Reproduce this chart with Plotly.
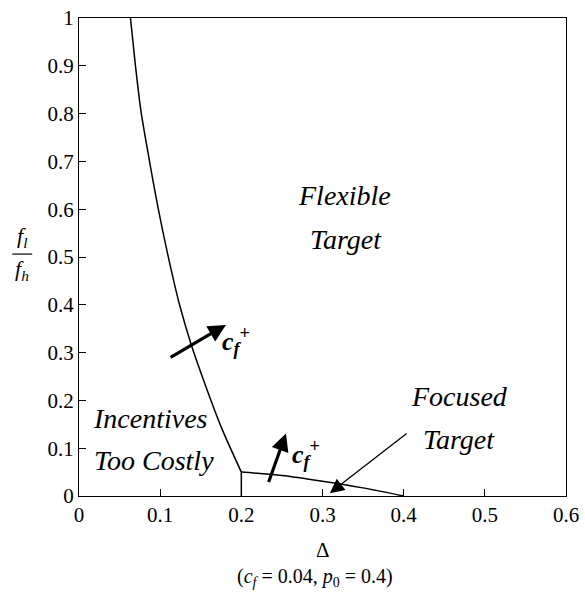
import plotly.graph_objects as go

# Boundary between "Incentives Too Costly" and "Flexible Target"
boundary_x = [0.0634, 0.0693, 0.0761, 0.0863, 0.0973, 0.1098, 0.1239, 0.138, 0.1546, 0.1755, 0.2]
boundary_y = [1.0, 0.904, 0.808, 0.706, 0.604, 0.502, 0.4, 0.318, 0.237, 0.143, 0.05]

# Boundary between "Flexible Target" and "Focused Target"
focused_x = [0.2, 0.25, 0.3, 0.35, 0.4]
focused_y = [0.05, 0.043, 0.031, 0.017, 0.0]

# Vertical divider
divider_x = [0.2, 0.2]
divider_y = [0.0, 0.05]

x_ticks = [0, 0.1, 0.2, 0.3, 0.4, 0.5, 0.6]
x_tick_labels = ["0", "0.1", "0.2", "0.3", "0.4", "0.5", "0.6"]
y_ticks = [0, 0.1, 0.2, 0.3, 0.4, 0.5, 0.6, 0.7, 0.8, 0.9, 1.0]
y_tick_labels = ["0", "0.1", "0.2", "0.3", "0.4", "0.5", "0.6", "0.7", "0.8", "0.9", "1"]

FONT = "Liberation Serif"
W, H = 585, 600
ML, MR, MT, MB = 79, 17, 6, 104

fig = go.Figure()
fig.add_trace(go.Scatter(x=boundary_x, y=boundary_y, mode="lines",
                         line=dict(color="black", width=1.5, shape="spline", smoothing=0.8),
                         hoverinfo="skip", showlegend=False))
fig.add_trace(go.Scatter(x=focused_x, y=focused_y, mode="lines",
                         line=dict(color="black", width=1.5, shape="spline", smoothing=0.8),
                         hoverinfo="skip", showlegend=False))
fig.add_trace(go.Scatter(x=divider_x, y=divider_y, mode="lines",
                         line=dict(color="black", width=1.5), hoverinfo="skip", showlegend=False))

ann = []
def text(x, y, s, size=28, xanchor="center", xref="x", yref="y"):
    ann.append(dict(x=x, y=y, xref=xref, yref=yref, text=s, showarrow=False,
                    xanchor=xanchor, yanchor="middle",
                    font=dict(family=FONT, size=size, color="black")))

text(0.327, 0.629, "<i>Flexible</i>")
text(0.329, 0.537, "<i>Target</i>")
text(0.0144, 0.162, "<i>Incentives</i>", xanchor="left")
text(0.0156, 0.0735, "<i>Too Costly</i>", xanchor="left")
text(0.469, 0.209, "<i>Focused</i>")
text(0.468, 0.118, "<i>Target</i>")

cf = "<b><i>c<sub>f</sub></i><sup>+</sup></b>"
text(0.174, 0.325, cf, size=26, xanchor="left")
text(0.26, 0.088, cf, size=26, xanchor="left")

def arrow(x, y, ax, ay, width, size):
    ann.append(dict(x=x, y=y, ax=ax, ay=ay, xref="x", yref="y", axref="x", ayref="y",
                    text="", showarrow=True, arrowhead=2, arrowsize=size,
                    arrowwidth=width, arrowcolor="black", standoff=0, startstandoff=0))

arrow(0.181, 0.358, 0.111, 0.288, 3.2, 1.1)
arrow(0.255, 0.131, 0.233, 0.026, 3.2, 1.1)
arrow(0.309, 0.006, 0.4055, 0.133, 1.3, 2.2)

def px2paper(px, py):
    return (px - ML) / (W - ML - MR), (H - MB - py) / (H - MT - MB)

fx, fy = px2paper(22, 231)
text(fx, fy, "<i>f<sub>l</sub></i>", size=22, xref="paper", yref="paper")
fx, fy = px2paper(22, 264)
text(fx, fy, "<i>f<sub>h</sub></i>", size=22, xref="paper", yref="paper")
bx0, by = px2paper(12, 248)
bx1, _ = px2paper(32, 248)

dx, dy = px2paper(324, 551)
text(dx, dy, "Δ", size=21, xref="paper", yref="paper")
cx, cy = px2paper(316, 580)
text(cx, cy, "(<i>c<sub>f</sub></i> = 0.04, <i>p</i><sub>0</sub> = 0.4)", size=20,
     xref="paper", yref="paper")

axis_common = dict(ticks="inside", ticklen=7, tickwidth=1, tickcolor="black",
                   showline=True, linecolor="black", linewidth=1.3, mirror=True,
                   showgrid=False, zeroline=False,
                   ticklabeloverflow="allow",
                   tickfont=dict(family=FONT, size=21, color="black"))

fig.update_layout(
    width=W, height=H,
    margin=dict(l=ML, r=MR, t=MT, b=MB, pad=0),
    paper_bgcolor="white", plot_bgcolor="white",
    font=dict(family=FONT, size=21, color="black"),
    annotations=ann,
    shapes=[dict(type="line", xref="paper", yref="paper", x0=bx0, x1=bx1, y0=by, y1=by,
                 line=dict(color="black", width=1.2))],
    xaxis=dict(range=[0, 0.6], tickvals=x_ticks, ticktext=x_tick_labels, **axis_common),
    yaxis=dict(range=[0, 1], tickvals=y_ticks, ticktext=y_tick_labels, **axis_common),
)

fig.write_html("out.html")
